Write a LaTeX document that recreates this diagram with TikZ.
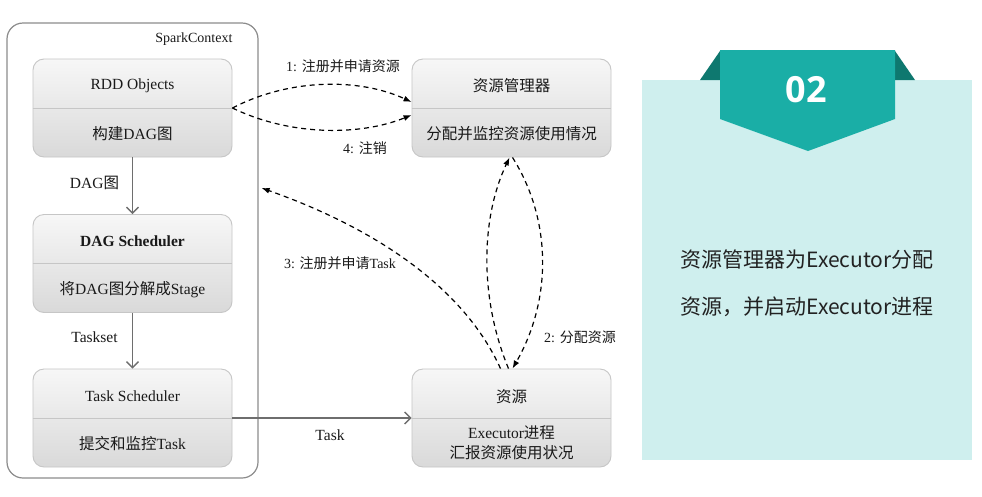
\documentclass[tikz,border=0pt]{standalone}
\usepackage{fontspec}
\setmainfont{Liberation Serif}
\newfontfamily\cjk{Noto Sans CJK SC}
\newfontfamily\panelfont{Noto Sans CJK SC}
\newfontfamily\numfont{Open Sans}
\usetikzlibrary{arrows.meta}
\newcommand\zh[1]{{\cjk #1}}

\definecolor{boxline}{HTML}{C6C6C6}
\definecolor{boxtop}{HTML}{F7F7F7}
\definecolor{boxmid}{HTML}{EAEAEA}
\definecolor{boxbot}{HTML}{D9D9D9}
\definecolor{outerline}{HTML}{8C8C8C}
\definecolor{flowgray}{HTML}{6E6E6E}
\definecolor{panelbg}{HTML}{CFEFEE}
\definecolor{tealmain}{HTML}{1AAEA6}
\definecolor{tealdark}{HTML}{0E786F}
\definecolor{paneltxt}{HTML}{222222}

\begin{document}
\begin{tikzpicture}[x=1pt,y=-1pt,
  stagebox/.style={draw=boxline, line width=0.9pt, rounded corners=11pt,
    minimum width=199pt, minimum height=98pt, inner sep=0pt,
    top color=boxtop, middle color=boxmid, bottom color=boxbot},
  boxtext/.style={font=\fontsize{15.5}{17}\selectfont, text=black!90, inner sep=1pt},
  lbl/.style={font=\fontsize{14}{16}\selectfont, text=black!90, inner sep=1pt},
  flow/.style={draw=flowgray, line width=1.3pt, -{Straight Barb[length=6pt,width=12pt]}},
  dsh/.style={draw=black, line width=1.2pt, dash pattern=on 5pt off 4pt,
    -{Latex[length=8pt,width=6pt]}},
  paneltext/.style={font=\panelfont\fontsize{21}{24}\selectfont, text=paneltxt}]

\useasboundingbox (0,0) rectangle (982,496);
\fill[white] (0,0) rectangle (982,496);

% SparkContext frame
\node[draw=outerline, line width=1.2pt, rounded corners=16pt,
      minimum width=251pt, minimum height=455pt] (sc) at (132.5,250.5) {};
\node[lbl, anchor=east] (sclbl) at ([xshift=-25pt,yshift=-17pt]sc.north east) {SparkContext};

% driver-side stages
\node[stagebox] (rdd) at (132.5,108) {};
\node[stagebox] (dag) at (132.5,263.5) {};
\node[stagebox] (ts)  at (132.5,418) {};
% cluster side
\node[stagebox] (rm)  at (511.5,108) {};
\node[stagebox] (res) at (511.5,418) {};

\foreach \b in {rdd,dag,ts,rm,res}
  \draw[boxline, line width=0.9pt] (\b.west) -- (\b.east);

\node[boxtext] (rddT) at ([yshift=22pt]rdd.center) {RDD Objects};
\node[boxtext] (rddB) at ([yshift=-26pt]rdd.center) {\zh{构建}DAG\zh{图}};
\node[boxtext] (dagT) at ([yshift=22pt]dag.center) {\textbf{DAG Scheduler}};
\node[boxtext] (dagB) at ([yshift=-26pt]dag.center) {\zh{将}DAG\zh{图分解成}Stage};
\node[boxtext] (tsT)  at ([yshift=22pt]ts.center) {Task Scheduler};
\node[boxtext] (tsB)  at ([yshift=-26pt]ts.center) {\zh{提交和监控}Task};
\node[boxtext] (rmT)  at ([yshift=22pt]rm.center) {\zh{资源管理器}};
\node[boxtext] (rmB)  at ([yshift=-26pt]rm.center) {\zh{分配并监控资源使用情况}};
\node[boxtext] (resT) at ([yshift=21pt]res.center) {\zh{资源}};
\node[boxtext] (resB1) at ([yshift=-15pt]res.center) {Executor\zh{进程}};
\node[boxtext] (resB2) at ([yshift=-35pt]res.center) {\zh{汇报资源使用状况}};

% solid flows
\draw[flow] (rdd.south) -- (dag.north);
\draw[flow] (dag.south) -- (ts.north);
\draw[flow] (ts.east) -- (res.west);

\node[boxtext] (l0) at (94.5,183) {DAG\zh{图}};
\node[boxtext] (l5) at (94.5,337) {Taskset};
\node[boxtext] (l6) at (330,435) {Task};

% dashed interactions
\draw[dsh] (rdd.east) .. controls (290,78) and (360,78) .. ([yshift=6pt]rm.west);
\draw[dsh] (rdd.east) .. controls (290,136) and (360,136) .. ([yshift=-7pt]rm.west);
\draw[dsh] ([xshift=-3pt]res.north) .. controls (480,300) and (480,220) .. ([xshift=-2pt]rm.south);
\draw[dsh] ([xshift=1pt]rm.south) .. controls (552,220) and (552,300) .. ([xshift=1pt]res.north);
\draw[dsh] ([xshift=-11pt]res.north) .. controls (465,290) and (380,230) .. ([xshift=3pt,yshift=62.5pt]sc.east);

\node[lbl] (l1) at (343,66) {1: \zh{注册并申请资源}};
\node[lbl] (l4) at (365,148) {4: \zh{注销}};
\node[lbl] (l3) at (340,263) {3: \zh{注册并申请}Task};
\node[lbl] (l2) at (580,337) {2: \zh{分配资源}};

% side panel
\fill[panelbg] (642,80) rectangle (972,460);
\fill[tealdark] (700,80) -- (720,51) -- (720,80) -- cycle;
\fill[tealdark] (915,80) -- (895,51) -- (895,80) -- cycle;
\fill[tealmain] (720,50) -- (895,50) -- (895,119) -- (808,151) -- (720,119) -- cycle;
\node[text=white, font=\numfont\bfseries\fontsize{36}{40}\selectfont] (num) at (806,90) {02};

\node[paneltext] (p1) at (807,260) {资源管理器为Executor分配};
\node[paneltext] (p2) at (807,307) {资源，并启动Executor进程};
\end{tikzpicture}
\end{document}
